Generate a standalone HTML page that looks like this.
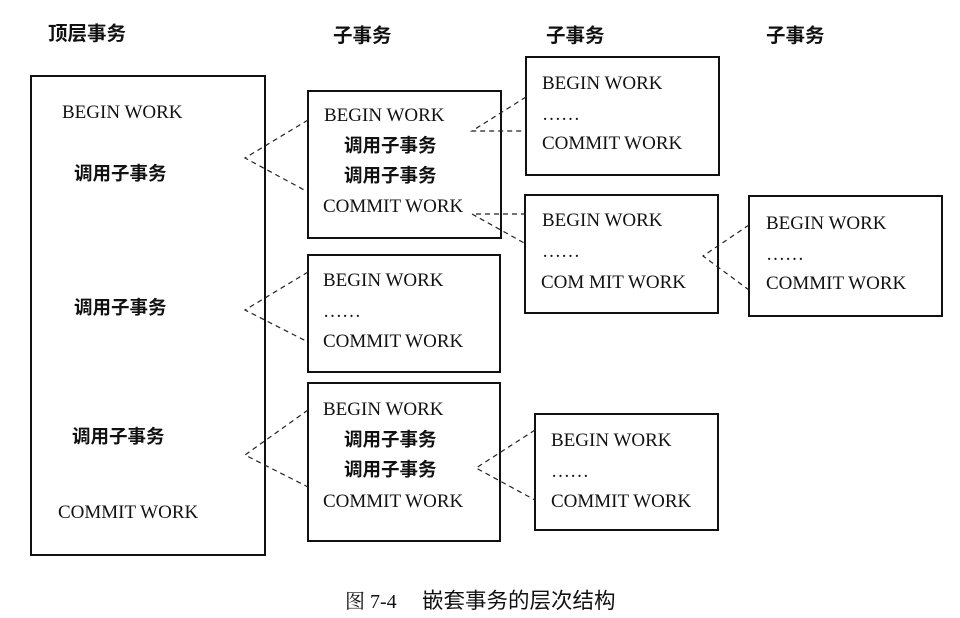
<!DOCTYPE html>
<html><head><meta charset="utf-8"><style>
html,body{margin:0;padding:0;background:#fff;}
svg{display:block;}
text{font-family:"Liberation Serif","Noto Serif CJK SC",serif;font-size:19px;fill:#111;}
.c{font-family:"Liberation Serif","Noto Sans CJK SC",sans-serif;font-weight:bold;font-size:18.5px;}
.h{font-size:19.5px;}
</style></head><body>
<svg width="960" height="618" viewBox="0 0 960 618">
<g fill="none" stroke="#111" stroke-width="2">
<rect x="31" y="76" width="234" height="479"/>
<rect x="308" y="91" width="193" height="147"/>
<rect x="308" y="255" width="192" height="117"/>
<rect x="308" y="383" width="192" height="158"/>
<rect x="526" y="57" width="193" height="118"/>
<rect x="525" y="195" width="193" height="118"/>
<rect x="749" y="196" width="193" height="120"/>
<rect x="535" y="414" width="183" height="116"/>
</g>
<g fill="none" stroke="#222" stroke-width="1.2" stroke-dasharray="5,4">
<polyline points="308,120 245,158 308,192"/>
<polyline points="308,272 245,310 308,342"/>
<polyline points="308,410 245,455 308,487"/>
<polyline points="526,97 472,131 526,131"/>
<polyline points="526,214 472,214 526,244"/>
<polyline points="749,225 703,256 749,290"/>
<polyline points="535,430 476,468 535,500"/>
</g>
<text class="c h" x="48" y="40">顶层事务</text>
<text class="c h" x="333" y="42">子事务</text>
<text class="c h" x="546" y="42">子事务</text>
<text class="c h" x="766" y="42">子事务</text>
<text x="62" y="118">BEGIN WORK</text>
<text class="c" x="74" y="180">调用子事务</text>
<text class="c" x="74" y="314">调用子事务</text>
<text class="c" x="72" y="443">调用子事务</text>
<text x="58" y="518">COMMIT WORK</text>
<text x="324" y="121">BEGIN WORK</text>
<text class="c" x="344" y="152">调用子事务</text>
<text class="c" x="344" y="182">调用子事务</text>
<text x="323" y="212">COMMIT WORK</text>
<text x="323" y="286">BEGIN WORK</text>
<text x="323" y="317">……</text>
<text x="323" y="347">COMMIT WORK</text>
<text x="323" y="415">BEGIN WORK</text>
<text class="c" x="344" y="446">调用子事务</text>
<text class="c" x="344" y="476">调用子事务</text>
<text x="323" y="507">COMMIT WORK</text>
<text x="542" y="89">BEGIN WORK</text>
<text x="542" y="120">……</text>
<text x="542" y="149">COMMIT WORK</text>
<text x="542" y="226">BEGIN WORK</text>
<text x="542" y="257">……</text>
<text x="541" y="288">COM MIT WORK</text>
<text x="766" y="229">BEGIN WORK</text>
<text x="766" y="260">……</text>
<text x="766" y="289">COMMIT WORK</text>
<text x="551" y="446">BEGIN WORK</text>
<text x="551" y="477">……</text>
<text x="551" y="507">COMMIT WORK</text>
<text x="345" y="608" style="font-size:20px">图 7-4</text>
<text class="c" x="422" y="608" style="font-weight:normal;font-size:21.5px">嵌套事务的层次结构</text>
</svg>
</body></html>
